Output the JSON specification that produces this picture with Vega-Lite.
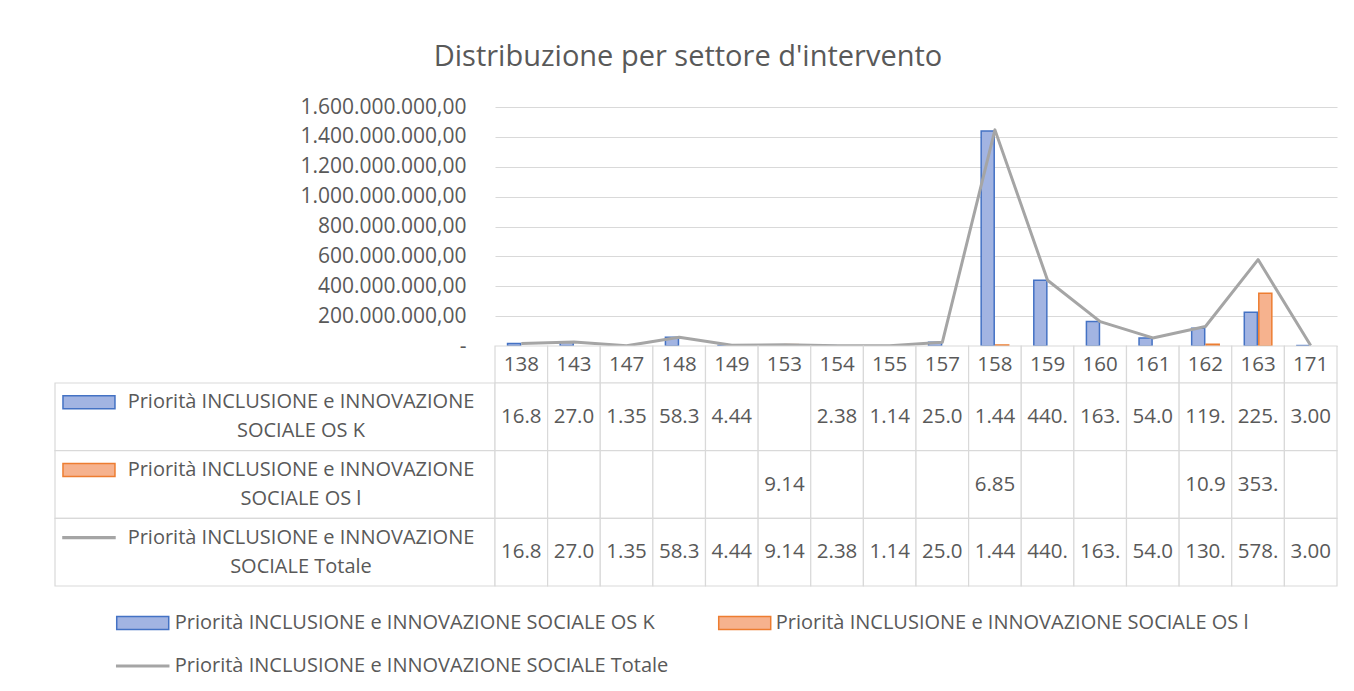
{
  "$schema": "https://vega.github.io/schema/vega-lite/v6.json",
  "background": "white",
  "autosize": {"type": "pad"},
  "padding": {"left": 54, "top": 43, "right": 8, "bottom": 0},
  "title": {"text": "Distribuzione per settore d'intervento", "fontSize": 29, "font": "Open Sans", "fontWeight": "normal", "color": "#595959", "anchor": "middle", "offset": 24, "dx": -8},
  "datasets": {
    "cells": [
      {"cat": "138", "series": "Priorità INCLUSIONE e INNOVAZIONE SOCIALE OS K", "value": 16800000},
      {"cat": "143", "series": "Priorità INCLUSIONE e INNOVAZIONE SOCIALE OS K", "value": 27000000},
      {"cat": "147", "series": "Priorità INCLUSIONE e INNOVAZIONE SOCIALE OS K", "value": 1350000},
      {"cat": "148", "series": "Priorità INCLUSIONE e INNOVAZIONE SOCIALE OS K", "value": 58300000},
      {"cat": "149", "series": "Priorità INCLUSIONE e INNOVAZIONE SOCIALE OS K", "value": 4440000},
      {"cat": "153", "series": "Priorità INCLUSIONE e INNOVAZIONE SOCIALE OS K", "value": null},
      {"cat": "154", "series": "Priorità INCLUSIONE e INNOVAZIONE SOCIALE OS K", "value": 2380000},
      {"cat": "155", "series": "Priorità INCLUSIONE e INNOVAZIONE SOCIALE OS K", "value": 1140000},
      {"cat": "157", "series": "Priorità INCLUSIONE e INNOVAZIONE SOCIALE OS K", "value": 25000000},
      {"cat": "158", "series": "Priorità INCLUSIONE e INNOVAZIONE SOCIALE OS K", "value": 1440000000},
      {"cat": "159", "series": "Priorità INCLUSIONE e INNOVAZIONE SOCIALE OS K", "value": 440200000},
      {"cat": "160", "series": "Priorità INCLUSIONE e INNOVAZIONE SOCIALE OS K", "value": 163400000},
      {"cat": "161", "series": "Priorità INCLUSIONE e INNOVAZIONE SOCIALE OS K", "value": 54000000},
      {"cat": "162", "series": "Priorità INCLUSIONE e INNOVAZIONE SOCIALE OS K", "value": 119500000},
      {"cat": "163", "series": "Priorità INCLUSIONE e INNOVAZIONE SOCIALE OS K", "value": 225300000},
      {"cat": "171", "series": "Priorità INCLUSIONE e INNOVAZIONE SOCIALE OS K", "value": 3000000},
      {"cat": "138", "series": "Priorità INCLUSIONE e INNOVAZIONE SOCIALE OS l", "value": null},
      {"cat": "143", "series": "Priorità INCLUSIONE e INNOVAZIONE SOCIALE OS l", "value": null},
      {"cat": "147", "series": "Priorità INCLUSIONE e INNOVAZIONE SOCIALE OS l", "value": null},
      {"cat": "148", "series": "Priorità INCLUSIONE e INNOVAZIONE SOCIALE OS l", "value": null},
      {"cat": "149", "series": "Priorità INCLUSIONE e INNOVAZIONE SOCIALE OS l", "value": null},
      {"cat": "153", "series": "Priorità INCLUSIONE e INNOVAZIONE SOCIALE OS l", "value": 9140000},
      {"cat": "154", "series": "Priorità INCLUSIONE e INNOVAZIONE SOCIALE OS l", "value": null},
      {"cat": "155", "series": "Priorità INCLUSIONE e INNOVAZIONE SOCIALE OS l", "value": null},
      {"cat": "157", "series": "Priorità INCLUSIONE e INNOVAZIONE SOCIALE OS l", "value": null},
      {"cat": "158", "series": "Priorità INCLUSIONE e INNOVAZIONE SOCIALE OS l", "value": 6850000},
      {"cat": "159", "series": "Priorità INCLUSIONE e INNOVAZIONE SOCIALE OS l", "value": null},
      {"cat": "160", "series": "Priorità INCLUSIONE e INNOVAZIONE SOCIALE OS l", "value": null},
      {"cat": "161", "series": "Priorità INCLUSIONE e INNOVAZIONE SOCIALE OS l", "value": null},
      {"cat": "162", "series": "Priorità INCLUSIONE e INNOVAZIONE SOCIALE OS l", "value": 10900000},
      {"cat": "163", "series": "Priorità INCLUSIONE e INNOVAZIONE SOCIALE OS l", "value": 353200000},
      {"cat": "171", "series": "Priorità INCLUSIONE e INNOVAZIONE SOCIALE OS l", "value": null},
      {"cat": "138", "series": "Priorità INCLUSIONE e INNOVAZIONE SOCIALE Totale", "value": 16800000},
      {"cat": "143", "series": "Priorità INCLUSIONE e INNOVAZIONE SOCIALE Totale", "value": 27000000},
      {"cat": "147", "series": "Priorità INCLUSIONE e INNOVAZIONE SOCIALE Totale", "value": 1350000},
      {"cat": "148", "series": "Priorità INCLUSIONE e INNOVAZIONE SOCIALE Totale", "value": 58300000},
      {"cat": "149", "series": "Priorità INCLUSIONE e INNOVAZIONE SOCIALE Totale", "value": 4440000},
      {"cat": "153", "series": "Priorità INCLUSIONE e INNOVAZIONE SOCIALE Totale", "value": 9140000},
      {"cat": "154", "series": "Priorità INCLUSIONE e INNOVAZIONE SOCIALE Totale", "value": 2380000},
      {"cat": "155", "series": "Priorità INCLUSIONE e INNOVAZIONE SOCIALE Totale", "value": 1140000},
      {"cat": "157", "series": "Priorità INCLUSIONE e INNOVAZIONE SOCIALE Totale", "value": 25000000},
      {"cat": "158", "series": "Priorità INCLUSIONE e INNOVAZIONE SOCIALE Totale", "value": 1446850000},
      {"cat": "159", "series": "Priorità INCLUSIONE e INNOVAZIONE SOCIALE Totale", "value": 440200000},
      {"cat": "160", "series": "Priorità INCLUSIONE e INNOVAZIONE SOCIALE Totale", "value": 163400000},
      {"cat": "161", "series": "Priorità INCLUSIONE e INNOVAZIONE SOCIALE Totale", "value": 54000000},
      {"cat": "162", "series": "Priorità INCLUSIONE e INNOVAZIONE SOCIALE Totale", "value": 130400000},
      {"cat": "163", "series": "Priorità INCLUSIONE e INNOVAZIONE SOCIALE Totale", "value": 578500000},
      {"cat": "171", "series": "Priorità INCLUSIONE e INNOVAZIONE SOCIALE Totale", "value": 3000000}
    ],
    "series": [
      {"series": "Priorità INCLUSIONE e INNOVAZIONE SOCIALE OS K", "label": ["Priorità INCLUSIONE e INNOVAZIONE", "SOCIALE OS K"]},
      {"series": "Priorità INCLUSIONE e INNOVAZIONE SOCIALE OS l", "label": ["Priorità INCLUSIONE e INNOVAZIONE", "SOCIALE OS l"]},
      {"series": "Priorità INCLUSIONE e INNOVAZIONE SOCIALE Totale", "label": ["Priorità INCLUSIONE e INNOVAZIONE", "SOCIALE Totale"]}
    ]
  },
  "spacing": 0,
  "vconcat": [
    {
      "columns": 2,
      "spacing": 0,
      "bounds": "flush",
      "concat": [
        {"width": 440, "height": 239, "data": {"values": []}, "mark": "text"},
        {
          "width": 842, "height": 239,
          "data": {"name": "cells"},
          "encoding": {
            "x": {"field": "cat", "type": "nominal", "scale": {"domain": ["138","143","147","148","149","153","154","155","157","158","159","160","161","162","163","171"], "paddingInner": 0, "paddingOuter": 0}, "axis": null},
            "y": {"field": "value", "type": "quantitative", "scale": {"domain": [0, 1600000000], "nice": false},
              "axis": {"title": null, "values": [0, 200000000, 400000000, 600000000, 800000000, 1000000000, 1200000000, 1400000000, 1600000000], "tickCount": 20, "format": ",.2f", "labelExpr": "datum.value == 0 ? '-\u00a0\u00a0' : datum.label", "labelOverlap": false, "labelFontSize": 21, "domain": false, "ticks": false, "labelPadding": 29, "grid": true, "gridColor": "#d9d9d9", "gridWidth": 1}}
          },
          "layer": [
            {
              "transform": [
                {"filter": {"not": {"field": "series", "equal": "Priorità INCLUSIONE e INNOVAZIONE SOCIALE Totale"}}},
                {"filter": {"field": "value", "valid": true}}
              ],
              "mark": {"type": "bar", "strokeWidth": 1.5},
              "encoding": {
                "xOffset": {"field": "series", "type": "nominal", "scale": {"domain": ["Priorità INCLUSIONE e INNOVAZIONE SOCIALE OS K", "Priorità INCLUSIONE e INNOVAZIONE SOCIALE OS l"], "paddingInner": 0.1, "paddingOuter": 0.865}},
                "fill": {"field": "series", "type": "nominal", "scale": {"domain": ["Priorità INCLUSIONE e INNOVAZIONE SOCIALE OS K", "Priorità INCLUSIONE e INNOVAZIONE SOCIALE OS l", "Priorità INCLUSIONE e INNOVAZIONE SOCIALE Totale"], "range": ["#a2b4e2", "#f6b28e", "#a5a5a5"]}, "legend": null},
                "stroke": {"field": "series", "type": "nominal", "scale": {"domain": ["Priorità INCLUSIONE e INNOVAZIONE SOCIALE OS K", "Priorità INCLUSIONE e INNOVAZIONE SOCIALE OS l", "Priorità INCLUSIONE e INNOVAZIONE SOCIALE Totale"], "range": ["#4472c4", "#ed7d31", "#a5a5a5"]}, "legend": null}
              }
            },
            {
              "transform": [{"filter": {"field": "series", "equal": "Priorità INCLUSIONE e INNOVAZIONE SOCIALE Totale"}}],
              "mark": {"type": "line", "color": "#a5a5a5", "strokeWidth": 3, "strokeJoin": "round"},
              "encoding": {}
            }
          ]
        },
        {"width": 440, "height": 37, "data": {"values": []}, "mark": "text"},
        {
          "width": 842, "height": 37,
          "data": {"name": "cells"},
          "transform": [{"filter": {"field": "series", "equal": "Priorità INCLUSIONE e INNOVAZIONE SOCIALE Totale"}}],
          "layer": [
            {"mark": {"type": "rect", "fill": "white", "stroke": "#d9d9d9", "strokeWidth": 1.2},
             "encoding": {"x": {"field": "cat", "type": "nominal", "scale": {"domain": ["138","143","147","148","149","153","154","155","157","158","159","160","161","162","163","171"], "paddingInner": 0, "paddingOuter": 0}, "axis": null}}},
            {"mark": {"type": "text", "baseline": "middle", "align": "center", "fontSize": 20.5},
             "encoding": {"x": {"field": "cat", "type": "nominal"}, "text": {"field": "cat"}}}
          ]
        },
        {
          "width": 440, "height": 203,
          "data": {"name": "series"},
          "layer": [
            {"mark": {"type": "rect", "fill": "white", "stroke": "#d9d9d9", "strokeWidth": 1.2},
             "encoding": {"y": {"field": "series", "type": "nominal", "scale": {"domain": ["Priorità INCLUSIONE e INNOVAZIONE SOCIALE OS K", "Priorità INCLUSIONE e INNOVAZIONE SOCIALE OS l", "Priorità INCLUSIONE e INNOVAZIONE SOCIALE Totale"], "paddingInner": 0, "paddingOuter": 0}, "axis": null}}},
            {"mark": {"type": "point", "filled": true, "opacity": 1, "size": 2704, "strokeWidth": 1.5},
             "encoding": {
               "x": {"datum": "sw", "type": "nominal", "scale": {"type": "point", "domain": ["sw", "tx"], "padding": 0.5377, "align": 0.149}, "axis": null},
               "y": {"field": "series", "type": "nominal", "bandPosition": 0.285},
               "shape": {"field": "series", "type": "nominal", "scale": {"domain": ["Priorità INCLUSIONE e INNOVAZIONE SOCIALE OS K", "Priorità INCLUSIONE e INNOVAZIONE SOCIALE OS l", "Priorità INCLUSIONE e INNOVAZIONE SOCIALE Totale"], "range": ["M-1,-0.25H1V0.25H-1Z", "M-1,-0.25H1V0.25H-1Z", "M-1,-0.03H1V0.03H-1Z"]}, "legend": null},
               "fill": {"field": "series", "type": "nominal", "legend": null},
               "stroke": {"field": "series", "type": "nominal", "legend": null}
             }},
            {"mark": {"type": "text", "baseline": "middle", "align": "center", "lineHeight": 29, "dy": -14.5},
             "encoding": {
               "x": {"datum": "tx", "type": "nominal"},
               "y": {"field": "series", "type": "nominal"},
               "text": {"field": "label"}
             }}
          ]
        },
        {
          "width": 842, "height": 203,
          "data": {"name": "cells"},
          "layer": [
            {"mark": {"type": "rect", "fill": "white", "stroke": "#d9d9d9", "strokeWidth": 1.2},
             "encoding": {
               "x": {"field": "cat", "type": "nominal", "scale": {"domain": ["138","143","147","148","149","153","154","155","157","158","159","160","161","162","163","171"], "paddingInner": 0, "paddingOuter": 0}, "axis": null},
               "y": {"field": "series", "type": "nominal", "scale": {"domain": ["Priorità INCLUSIONE e INNOVAZIONE SOCIALE OS K", "Priorità INCLUSIONE e INNOVAZIONE SOCIALE OS l", "Priorità INCLUSIONE e INNOVAZIONE SOCIALE Totale"], "paddingInner": 0, "paddingOuter": 0}, "axis": null}
             }},
            {"transform": [{"filter": {"field": "value", "valid": true}}],
             "mark": {"type": "text", "baseline": "middle", "align": "center", "fontSize": 20.5, "limit": 48, "ellipsis": "\u200b"},
             "encoding": {
               "x": {"field": "cat", "type": "nominal"},
               "y": {"field": "series", "type": "nominal"},
               "text": {"field": "value", "type": "quantitative", "format": ",.2f"}
             }}
          ]
        }
      ]
    },
    {
      "width": 1282, "height": 100,
      "data": {"name": "series"},
      "layer": [
        {
          "transform": [{"filter": {"field": "series", "equal": "Priorità INCLUSIONE e INNOVAZIONE SOCIALE OS K"}}],
          "layer": [
            {"mark": {"type": "point", "filled": true, "opacity": 1, "size": 2704, "strokeWidth": 1.5},
             "encoding": {
               "x": {"datum": "c1", "type": "nominal", "scale": {"type": "point", "domain": ["c1", "c2"], "padding": 0.5648, "align": 0.129}, "axis": null},
               "y": {"datum": "r1", "type": "nominal", "scale": {"type": "point", "domain": ["r1", "r2"], "padding": 0.6628, "align": 0.632}, "axis": null},
               "shape": {"field": "series", "type": "nominal", "legend": null},
               "fill": {"field": "series", "type": "nominal", "legend": null},
               "stroke": {"field": "series", "type": "nominal", "legend": null}
             }},
            {"mark": {"type": "text", "align": "left", "baseline": "middle", "dx": 32},
             "encoding": {"x": {"datum": "c1", "type": "nominal"}, "y": {"datum": "r1", "type": "nominal"}, "text": {"field": "series"}}}
          ]
        },
        {
          "transform": [{"filter": {"field": "series", "equal": "Priorità INCLUSIONE e INNOVAZIONE SOCIALE OS l"}}],
          "layer": [
            {"mark": {"type": "point", "filled": true, "opacity": 1, "size": 2704, "strokeWidth": 1.5},
             "encoding": {
               "x": {"datum": "c2", "type": "nominal"},
               "y": {"datum": "r1", "type": "nominal"},
               "shape": {"field": "series", "type": "nominal", "legend": null},
               "fill": {"field": "series", "type": "nominal", "legend": null},
               "stroke": {"field": "series", "type": "nominal", "legend": null}
             }},
            {"mark": {"type": "text", "align": "left", "baseline": "middle", "dx": 31},
             "encoding": {"x": {"datum": "c2", "type": "nominal"}, "y": {"datum": "r1", "type": "nominal"}, "text": {"field": "series"}}}
          ]
        },
        {
          "transform": [{"filter": {"field": "series", "equal": "Priorità INCLUSIONE e INNOVAZIONE SOCIALE Totale"}}],
          "layer": [
            {"mark": {"type": "point", "filled": true, "opacity": 1, "size": 2704, "strokeWidth": 1.5},
             "encoding": {
               "x": {"datum": "c1", "type": "nominal"},
               "y": {"datum": "r2", "type": "nominal"},
               "shape": {"field": "series", "type": "nominal", "legend": null},
               "fill": {"field": "series", "type": "nominal", "legend": null},
               "stroke": {"field": "series", "type": "nominal", "legend": null}
             }},
            {"mark": {"type": "text", "align": "left", "baseline": "middle", "dx": 32},
             "encoding": {"x": {"datum": "c1", "type": "nominal"}, "y": {"datum": "r2", "type": "nominal"}, "text": {"field": "series"}}}
          ]
        }
      ]
    }
  ],
  "config": {
    "locale": {"number": {"decimal": ",", "thousands": ".", "grouping": [3], "currency": ["", " €"]}},
    "font": "Open Sans",
    "view": {"stroke": null},
    "text": {"font": "Open Sans", "fontSize": 20, "fill": "#595959"},
    "axis": {"labelFont": "Open Sans", "labelFontSize": 20, "labelColor": "#595959"}
  }
}
